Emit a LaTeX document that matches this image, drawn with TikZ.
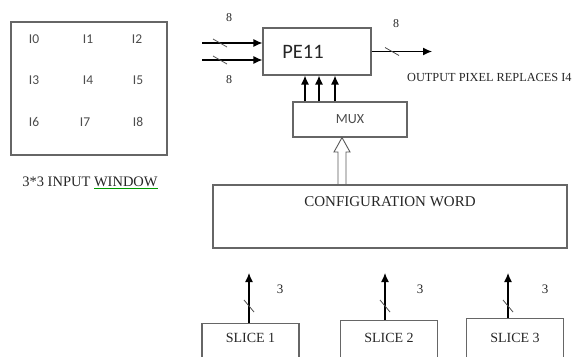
\documentclass[tikz,border=0pt]{standalone}
\usepackage{fontspec}
\setmainfont{Liberation Serif}
\newfontfamily\calib{Carlito}
\usetikzlibrary{arrows.meta}

\tikzset{
  box/.style={draw=black!60, line width=1.1pt, inner sep=0pt},
  bus/.style={line width=1.2pt, -{Latex[length=9pt,width=8pt]}},
  slash/.pic={\draw[line width=0.8pt, black!70] (-7pt,4pt) -- (7pt,-4pt);},
  vslash/.pic={\draw[line width=0.8pt, black!70] (-5pt,6pt) -- (5pt,-6pt);}
}

\begin{document}
\begin{tikzpicture}[x=1pt, y=-1pt, text=black!85]
  \useasboundingbox (0,0) rectangle (580,356);
  % input window
  \node[box, minimum width=156pt, minimum height=133pt] (win) at (89,88.5) {};
  \foreach \n/\x/\y in {0/34/39, 1/88/39, 2/137/39, 3/34/80, 4/88/80, 5/138/80, 6/34/122, 7/85/122, 8/138/122}
    \node[font=\calib\fontsize{13.5}{15}\selectfont, text=black!70] (i\n) at (\x,\y) {I\n};
  \node[font=\fontsize{14.5}{16}\selectfont] (winlbl) at (90,183) {3*3 INPUT {\color{green!60!black}\underline{\textcolor{black!85}{WINDOW}}}};

  % processing element
  \node[box, minimum width=108pt, minimum height=47pt] (pe) at (317,51.5) {};
  \node[font=\calib\fontsize{20.5}{22}\selectfont] (pelbl) at (303,52) {PE11};
  \coordinate (in1) at (202,43);
  \coordinate (in2) at (202,60);
  \draw[bus] (in1) -- (in1 -| pe.west);
  \draw[bus] (in2) -- (in2 -| pe.west);
  \pic at (220,43) {slash};
  \pic at (220,60) {slash};
  \node[font=\fontsize{12}{14}\selectfont] (w1) at (229,18) {8};
  \node[font=\fontsize{12}{14}\selectfont] (w2) at (229,80) {8};
  \coordinate (out) at (432,51.5);
  \draw[bus] (pe.east) -- (out);
  \pic at (392,51.5) {slash};
  \node[font=\fontsize{12}{14}\selectfont] (w3) at (396,24) {8};
  \node[anchor=west, inner sep=0pt, font=\fontsize{12.3}{14}\selectfont] (outlbl) at (407,77) {OUTPUT PIXEL REPLACES I4};

  % mux
  \node[box, minimum width=114pt, minimum height=35pt, font=\calib\fontsize{14}{16}\selectfont, text=black!70] (mux) at (350,119.5) {MUX};
  \foreach \x in {305,319,335}
    \draw[bus] (mux.north -| \x,0) -- (pe.south -| \x,0);

  % configuration word
  \node[box, minimum width=354pt, minimum height=63pt] (cfg) at (390,216.5) {};
  \node[font=\fontsize{15}{17}\selectfont] (cfglbl) at (390,202) {CONFIGURATION WORD};
  \draw[line width=0.9pt, black!65, line join=miter] (cfg.north -| 338,0) -- (338,152) -- (334,152)
    -- (mux.south -| 342,0) -- (350,152) -- (346,152) -- (cfg.north -| 346,0);

  % slices
  \foreach \i/\x/\t/\bx/\lx in {1/249/323/250.5/280, 2/385/320/389/420, 3/508/318/515/545} {
    \node[box, anchor=north, minimum width=97pt, minimum height=50pt] (s\i) at (\bx,\t) {};
    \node[font=\fontsize{14}{16}\selectfont] (s\i lbl) at (\bx,338) {SLICE \i};
    \coordinate (t\i) at (\x,273);
    \draw[bus] (t\i |- s\i.north) -- (t\i);
    \pic at (\x,306) {vslash};
    \node[font=\fontsize{13}{15}\selectfont] (n\i) at (\lx,289) {3};
  }
\end{tikzpicture}
\end{document}
